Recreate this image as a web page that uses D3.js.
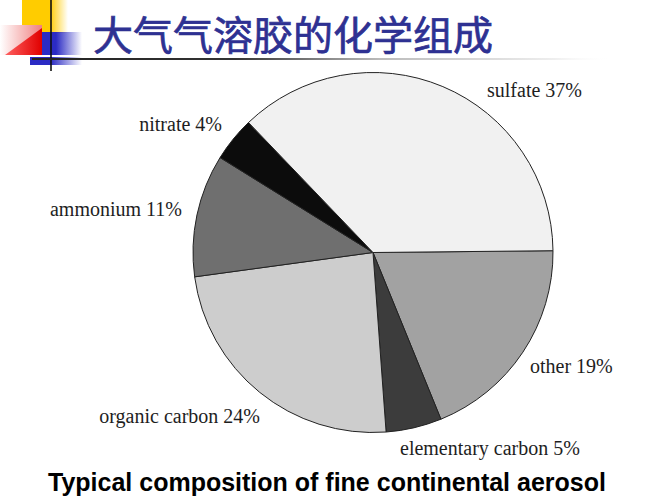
<!DOCTYPE html>
<html>
<head>
<meta charset="utf-8">
<script src="https://cdn.jsdelivr.net/npm/d3@7"></script>
<style>
  html, body { margin: 0; padding: 0; background: #ffffff; }
  svg { display: block; }
</style>
</head>
<body>
<svg id="chart" width="667" height="500"></svg>
<script>
// ---- data (clockwise from 3 o'clock) ----
const categories = ["other", "elementary carbon", "organic carbon", "ammonium", "nitrate", "sulfate"];
const values = [19, 5, 24, 11, 4, 37];
const fills = ["#a2a2a2", "#3c3c3c", "#cdcdcd", "#6f6f6f", "#0c0c0c", "#f1f1f1"];
const titleText = "大气气溶胶的化学组成";
const captionText = "Typical composition of fine continental aerosol";

// label layout (text positions, not data)
const labelLayout = [
  { x: 530, y: 373, anchor: "start" },
  { x: 400, y: 455, anchor: "start" },
  { x: 260, y: 423, anchor: "end" },
  { x: 182, y: 216, anchor: "end" },
  { x: 222, y: 131, anchor: "end" },
  { x: 487, y: 97, anchor: "start" }
];

const svg = d3.select("#chart");
const defs = svg.append("defs");

function linGrad(id, x1, y1, x2, y2, stops) {
  const g = defs.append("linearGradient").attr("id", id)
    .attr("x1", x1).attr("y1", y1).attr("x2", x2).attr("y2", y2);
  stops.forEach(s => g.append("stop").attr("offset", s[0]).attr("stop-color", s[1]).attr("stop-opacity", s[2] == null ? 1 : s[2]));
}
linGrad("gYellow", "0", "0", "1", "0", [[0, "#ffcc00"], [0.6, "#ffcc00"], [1, "#ffcc00", 0]]);
linGrad("gBlue", "0", "0", "1", "0", [[0, "#2b2bc4"], [0.35, "#2b2bc4"], [1, "#2b2bc4", 0]]);
linGrad("gBlue2", "0", "0", "1", "0", [[0, "#2b2bc4"], [0.4, "#2b2bc4"], [1, "#2b2bc4", 0]]);
linGrad("gPink", "0", "0", "1", "0", [[0, "#ffffff"], [1, "#f08080"]]);
linGrad("gRed", "0", "0", "1", "0", [[0, "#ff6060"], [1, "#e00000"]]);
linGrad("gLine", "0", "0", "1", "0", [[0, "#222222"], [0.35, "#333333"], [0.6, "#bbbbbb"], [0.9, "#eeeeee"], [1, "#ffffff", 0]]);

// ---- logo ----
const logo = svg.append("g");
logo.append("rect").attr("x", 22).attr("y", 0).attr("width", 46).attr("height", 33).attr("fill", "url(#gYellow)");
logo.append("rect").attr("x", 0).attr("y", 25).attr("width", 42).attr("height", 30).attr("fill", "url(#gPink)");
logo.append("path").attr("d", "M5,55 L42,28 L42,55 Z").attr("fill", "url(#gRed)");
logo.append("rect").attr("x", 42).attr("y", 32).attr("width", 40).attr("height", 23).attr("fill", "url(#gBlue)");
logo.append("rect").attr("x", 30).attr("y", 57).attr("width", 52).attr("height", 8).attr("fill", "url(#gBlue2)");
logo.append("line").attr("x1", 51).attr("y1", 0).attr("x2", 51).attr("y2", 71).attr("stroke", "#111").attr("stroke-width", 1.6);

// ---- title and rule ----
svg.append("rect").attr("x", 32).attr("y", 58).attr("width", 580).attr("height", 2).attr("fill", "url(#gLine)");
svg.append("text").attr("x", 93).attr("y", 50)
  .attr("font-family", "'Noto Sans CJK SC', sans-serif").attr("font-size", 40)
  .attr("fill", "#2e3192").attr("stroke", "#2e3192").attr("stroke-width", 0.7)
  .text(titleText);

// ---- pie ----
const cx = 373, cy = 252.5, r = 180;
const start = Math.PI / 2 - 0.01;
const pie = d3.pie().sort(null).value(d => d.v).startAngle(start).endAngle(start + 2 * Math.PI);
const arc = d3.arc().innerRadius(0).outerRadius(r);
const rows = categories.map((c, i) => ({ c, v: values[i], fill: fills[i], lab: labelLayout[i] }));
const arcs = pie(rows);
const g = svg.append("g").attr("transform", `translate(${cx},${cy})`);
g.selectAll("path").data(arcs).join("path")
  .attr("d", arc).attr("fill", d => d.data.fill)
  .attr("stroke", "#222").attr("stroke-width", 1).attr("stroke-linejoin", "round");

// ---- labels ----
svg.append("g").selectAll("text").data(arcs).join("text")
  .attr("x", d => d.data.lab.x).attr("y", d => d.data.lab.y)
  .attr("text-anchor", d => d.data.lab.anchor)
  .attr("font-family", "'Liberation Serif', 'Times New Roman', serif").attr("font-size", 20)
  .attr("fill", "#1e1e1e")
  .text(d => `${d.data.c} ${d.data.v}%`);

// ---- caption ----
svg.append("text").attr("x", 48).attr("y", 491)
  .attr("font-family", "'Liberation Sans', Arial, sans-serif").attr("font-weight", "bold").attr("font-size", 25)
  .attr("fill", "#000").text(captionText);
</script>
</body>
</html>
